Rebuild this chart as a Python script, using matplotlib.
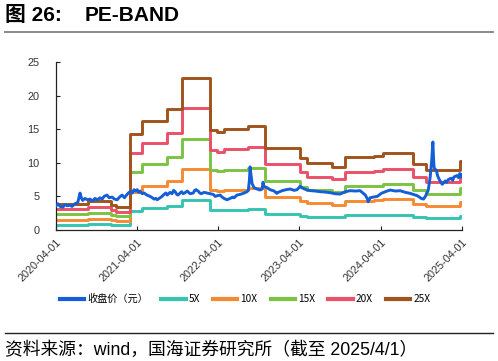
import numpy as np
import pandas as pd
import matplotlib
matplotlib.use("Agg")
import matplotlib.pyplot as plt
import matplotlib.dates as mdates
from matplotlib.lines import Line2D

plt.rcParams['font.family'] = ['Liberation Sans', 'Noto Sans CJK SC', 'DejaVu Sans']

# EPS steps (band = multiple * eps)
eps_dates = ["2020-04-01", "2020-08-23", "2020-12-04", "2020-12-27", "2021-02-26",
             "2021-04-23", "2021-08-13", "2021-10-20", "2022-02-21", "2022-03-26",
             "2022-04-25", "2022-08-13", "2022-10-26", "2023-04-04", "2023-05-04",
             "2023-08-26", "2023-10-24", "2024-02-28", "2024-04-12", "2024-08-22",
             "2024-10-23", "2025-03-25", "2025-04-01"]
eps = [0.154, 0.170, 0.150, 0.134, 0.572,
       0.650, 0.722, 0.906, 0.594, 0.584,
       0.600, 0.618, 0.488, 0.428, 0.396,
       0.376, 0.432, 0.440, 0.456, 0.392,
       0.356, 0.412, 0.412]
multiples = [5, 10, 15, 20, 25]
band_labels = ["5X", "10X", "15X", "20X", "25X"]
band_colors = ["#35c4b2", "#f58a32", "#7cc243", "#ea5068", "#a0531b"]

# closing price
price_dates = [
    "2020-04-01", "2020-04-10", "2020-04-20", "2020-05-02", "2020-05-12", "2020-05-22",
    "2020-06-03", "2020-06-12", "2020-06-25", "2020-07-08", "2020-07-18", "2020-07-24",
    "2020-07-30", "2020-08-09", "2020-08-20", "2020-09-01", "2020-09-12", "2020-09-23",
    "2020-10-05", "2020-10-16", "2020-10-26", "2020-11-03", "2020-11-16", "2020-11-26",
    "2020-12-09", "2020-12-20", "2021-01-01", "2021-01-12", "2021-01-23", "2021-02-03",
    "2021-02-10", "2021-02-20", "2021-02-28", "2021-03-10", "2021-03-18", "2021-03-26",
    "2021-04-01", "2021-04-08", "2021-04-14", "2021-04-24", "2021-05-02", "2021-05-15",
    "2021-05-29", "2021-06-08", "2021-06-16", "2021-06-24", "2021-06-30", "2021-07-13",
    "2021-07-22", "2021-07-31", "2021-08-08", "2021-08-14", "2021-08-27", "2021-09-05",
    "2021-09-12", "2021-09-19", "2021-09-26", "2021-10-02", "2021-10-11", "2021-10-18",
    "2021-10-25", "2021-11-05", "2021-11-12", "2021-11-25", "2021-12-09", "2021-12-16",
    "2021-12-22", "2021-12-31", "2022-01-08", "2022-01-14", "2022-01-27", "2022-02-10",
    "2022-02-23", "2022-03-09", "2022-03-18", "2022-03-27", "2022-04-09", "2022-04-18",
    "2022-04-27", "2022-05-10", "2022-05-24", "2022-06-05", "2022-06-11", "2022-06-24",
    "2022-07-08", "2022-07-18", "2022-07-26", "2022-08-08", "2022-08-14", "2022-08-19",
    "2022-08-22", "2022-08-26", "2022-08-31", "2022-09-09", "2022-09-22", "2022-10-06",
    "2022-10-15", "2022-10-19", "2022-10-23", "2022-11-06", "2022-11-20", "2022-12-08",
    "2022-12-20", "2022-12-26", "2023-01-13", "2023-01-31", "2023-02-18", "2023-03-08",
    "2023-03-21", "2023-04-04", "2023-04-17", "2023-05-05", "2023-05-23", "2023-06-10",
    "2023-07-03", "2023-07-25", "2023-08-17", "2023-09-08", "2023-10-01", "2023-10-24",
    "2023-11-15", "2023-12-08", "2023-12-30", "2024-01-22", "2024-02-01", "2024-02-04",
    "2024-02-13", "2024-02-27", "2024-03-16", "2024-04-03", "2024-04-21", "2024-05-13",
    "2024-06-05", "2024-06-27", "2024-07-20", "2024-08-11", "2024-08-25", "2024-09-12",
    "2024-09-30", "2024-10-10", "2024-10-18", "2024-10-31", "2024-11-09", "2024-11-16",
    "2024-11-21", "2024-11-25", "2024-11-27", "2024-12-06", "2024-12-13", "2024-12-20",
    "2025-01-02", "2025-01-08", "2025-01-15", "2025-01-22", "2025-01-29", "2025-02-11",
    "2025-02-18", "2025-02-24", "2025-03-09", "2025-03-16", "2025-03-22", "2025-03-28",
    "2025-04-01"]
price = [
    3.6, 3.9, 3.5, 3.4, 3.8, 3.6,
    3.7, 3.5, 3.9, 4.1, 5.5, 4.8,
    4.4, 4.7, 4.5, 4.6, 4.3, 4.7,
    4.5, 4.8, 4.6, 5.0, 5.2, 4.8,
    4.9, 4.6, 4.5, 4.9, 5.2, 4.8,
    5.1, 5.5, 5.7, 5.5, 6.0, 5.8,
    6.0, 5.6, 5.8, 5.4, 5.5, 5.2,
    5.0, 4.8, 4.6, 4.7, 4.5, 4.8,
    5.0, 5.3, 5.5, 5.2, 5.6, 5.4,
    5.9, 5.7, 5.3, 5.2, 5.5, 5.7,
    5.4, 5.6, 5.8, 5.4, 5.5, 5.9,
    6.0, 5.8, 5.5, 5.4, 5.6, 5.5,
    5.4, 5.3, 5.0, 5.1, 5.2, 4.9,
    4.7, 4.5, 4.7, 4.9, 4.8, 5.2,
    5.3, 5.4, 5.5, 5.7, 5.9, 7.5,
    9.4, 8.2, 6.9, 6.3, 6.1, 5.95,
    6.1, 7.1, 6.5, 6.3, 6.0, 5.8,
    5.45, 5.6, 5.85, 6.0, 6.1, 5.9,
    6.0, 6.5, 6.2, 5.95, 5.85, 5.8,
    5.7, 5.65, 5.55, 5.4, 5.35, 5.7,
    5.85, 5.8, 5.85, 5.2, 4.6, 4.2,
    4.8, 4.9, 5.0, 5.45, 5.7, 5.95,
    5.8, 5.85, 5.6, 5.45, 5.3, 5.1,
    4.7, 4.6, 5.0, 5.9, 7.9, 10.5,
    13.1, 10.0, 9.2, 8.9, 8.0, 7.5,
    6.8, 7.0, 7.3, 7.1, 7.5, 7.7,
    7.4, 7.9, 8.1, 7.8, 8.4, 7.9,
    8.2]

W, H = 498, 361
fig = plt.figure(figsize=(W / 100, H / 100), dpi=100)
ax = fig.add_axes([56 / W, 1 - 230 / H, (462 - 56) / W, (230 - 62) / H])

ed = pd.to_datetime(eps_dates)
pd_dates = pd.to_datetime(price_dates)

ax.plot(pd_dates, price, color="#145ed8", lw=2.1, label="收盘价（元）", zorder=5)
for m, lab, c in zip(multiples, band_labels, band_colors):
    ax.step(ed, [m * e for e in eps], where="post", color=c, lw=2.1, label=lab)

ax.set_xlim(pd.Timestamp("2020-04-01"), pd.Timestamp("2025-04-01"))
ax.set_ylim(0, 25)
ax.set_yticks([0, 5, 10, 15, 20, 25])
ticks = pd.to_datetime(["2020-04-01", "2021-04-01", "2022-04-01",
                        "2023-04-01", "2024-04-01", "2025-04-01"])
ax.set_xticks(ticks)
ax.xaxis.set_major_formatter(mdates.DateFormatter("%Y-%m-%d"))
for lbl in ax.get_xticklabels():
    lbl.set_rotation(45)
    lbl.set_ha("right")
    lbl.set_rotation_mode("anchor")
ax.tick_params(axis="both", direction="in", length=3, width=0.8,
               labelsize=7.8, labelcolor="#333333", color="#222222")
ax.tick_params(axis="y", pad=12)
ax.tick_params(axis="x", pad=5)
for s in ["top", "right"]:
    ax.spines[s].set_visible(False)
for s in ["left", "bottom"]:
    ax.spines[s].set_linewidth(0.9)
    ax.spines[s].set_color("#222222")

leg = fig.legend(loc="center", bbox_to_anchor=(245 / W, 1 - 299 / H), ncol=6,
                 frameon=False, handlelength=2.4, handletextpad=0.3,
                 columnspacing=1.3, prop={"family": ["Noto Sans CJK SC"], "size": 7.3})
for h in leg.get_lines():
    h.set_linewidth(3.0)

# header and footer
fig.text(5 / W, 1 - 21 / H, "图 26:", fontsize=15, fontweight="bold",
         va="baseline", ha="left")
fig.text(85 / W, 1 - 21 / H, "PE-BAND", fontsize=15, fontweight="bold",
         va="baseline", ha="left")
fig.add_artist(Line2D([5 / W, 493 / W], [1 - 32 / H, 1 - 32 / H],
                      color="#808080", lw=1.3))
fig.add_artist(Line2D([5 / W, 493 / W], [1 - 333 / H, 1 - 333 / H],
                      color="#222222", lw=1.0))
fig.text(5 / W, 1 - 355 / H, "资料来源：wind，国海证券研究所（截至 2025/4/1）",
         fontsize=12.8, va="baseline", ha="left",
         family=["Liberation Sans", "Noto Sans CJK SC"])

fig.savefig("out.png", dpi=100)
